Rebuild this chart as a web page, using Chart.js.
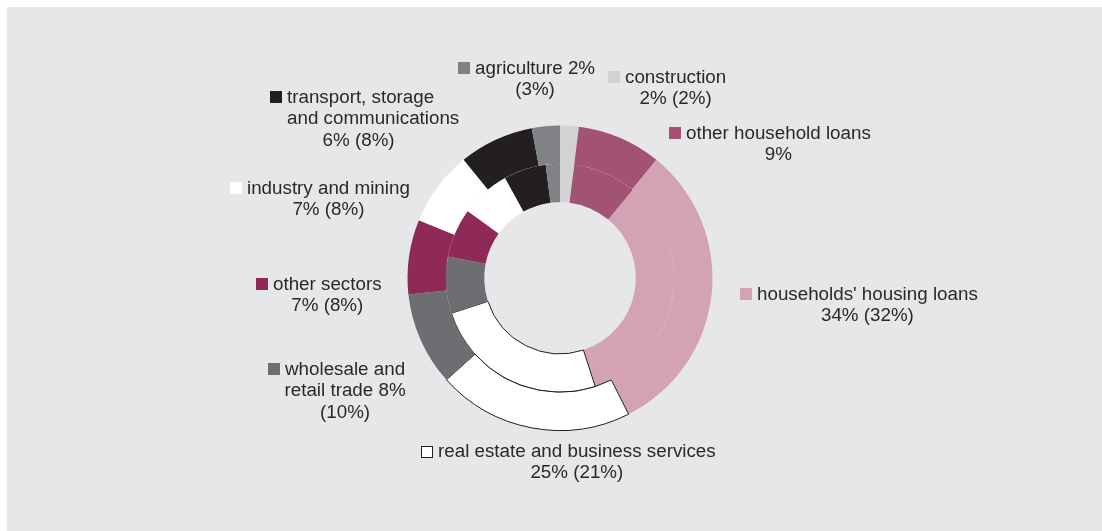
<!DOCTYPE html>
<html>
<head>
<meta charset="utf-8">
<title>Loans by sector</title>
<script src="https://cdn.jsdelivr.net/npm/chart.js@4"></script>
<style>
  html, body { margin: 0; padding: 0; background: #ffffff; }
  #wrap { width: 1102px; height: 531px; position: relative; }
  canvas { display: block; }
</style>
</head>
<body>
<div id="wrap"><canvas id="chart" width="1102" height="531"></canvas></div>
<script>
// Sectors, clockwise from 12 o'clock
const categories = [
  'construction',
  'other household loans',
  "households' housing loans",
  'real estate and business services',
  'wholesale and retail trade',
  'other sectors',
  'industry and mining',
  'transport, storage and communications',
  'agriculture'
];

// Shares in per cent: current (inner ring) and previous (outer ring)
const currentShare  = [2, 9, 34, 25, 8, 7, 7, 6, 2];
const previousShare = [2, 9, 32, 21, 10, 8, 8, 8, 3];
// whether the previous share is printed in the label
const showPrevious  = [true, false, true, true, true, true, true, true, true];

const sectorColors = ['#d1d2d4', '#a35372', '#d4a2b5', '#ffffff', '#6d6e71',
                      '#8f2957', '#ffffff', '#231f20', '#808285'];
const sectorBorder = [0, 0, 0, 1, 0, 0, 0, 0, 0];

// Label text, {c} = current share, {p} = previous share
const labelText = [
  ['construction', '{c}% ({p}%)'],
  ['other household loans', '{c}%'],
  ["households' housing loans", '{c}% ({p}%)'],
  ['real estate and business services', '{c}% ({p}%)'],
  ['wholesale and', 'retail trade {c}%', '({p}%)'],
  ['other sectors', '{c}% ({p}%)'],
  ['industry and mining', '{c}% ({p}%)'],
  ['transport, storage', 'and communications', '{c}% ({p}%)'],
  ['agriculture {c}%', '({p}%)']
];

// Label placement: key square (left, top) and first baseline
const labelPlace = [
  { bx: 608, by: 71,  base: 83  },
  { bx: 669, by: 127, base: 139 },
  { bx: 740, by: 288, base: 300 },
  { bx: 421, by: 446, base: 457 },
  { bx: 268, by: 363, base: 375 },
  { bx: 256, by: 278, base: 290 },
  { bx: 230, by: 182, base: 194 },
  { bx: 270, by: 91,  base: 103, leftLines: [1], centerShift: -2 },
  { bx: 458, by: 62,  base: 74  }
];

const FONT = '18.8px "Liberation Sans", Arial, Helvetica, sans-serif';
const TEXT_COLOR = '#2b2829';
const LINE_GAP = 21.3;

const panelBackground = {
  id: 'panelBackground',
  beforeDraw(chart) {
    const ctx = chart.ctx;
    ctx.save();
    ctx.fillStyle = '#ffffff';
    ctx.fillRect(0, 0, chart.width, chart.height);
    ctx.fillStyle = '#e6e7e8';
    ctx.fillRect(7, 7, chart.width - 7, chart.height - 7);
    ctx.restore();
  }
};

const sectorLabels = {
  id: 'sectorLabels',
  afterDraw(chart) {
    const ctx = chart.ctx;
    ctx.save();
    ctx.font = FONT;
    ctx.textBaseline = 'alphabetic';
    categories.forEach((name, i) => {
      const p = labelPlace[i];
      // key square
      ctx.fillStyle = sectorColors[i];
      ctx.fillRect(p.bx, p.by, 12, 12);
      if (sectorBorder[i]) {
        ctx.strokeStyle = '#231f20';
        ctx.lineWidth = 1;
        ctx.strokeRect(p.bx + 0.5, p.by + 0.5, 11, 11);
      }
      const lines = labelText[i].map(t => t
        .replace('{c}', currentShare[i])
        .replace('{p}', showPrevious[i] ? previousShare[i] : ''));
      const left = p.bx + 17;
      const firstW = ctx.measureText(lines[0]).width;
      const center = left + firstW / 2 + (p.centerShift || 0);
      ctx.fillStyle = TEXT_COLOR;
      lines.forEach((line, k) => {
        const y = p.base + k * LINE_GAP;
        if (k === 0 || (p.leftLines && p.leftLines.includes(k))) {
          ctx.textAlign = 'left';
          ctx.fillText(line, left, y);
        } else {
          ctx.textAlign = 'center';
          ctx.fillText(line, center, y);
        }
      });
    });
    ctx.restore();
  }
};

const ringStyle = {
  backgroundColor: sectorColors,
  borderColor: sectorColors.map((c, i) => sectorBorder[i] ? '#231f20' : c),
  borderWidth: sectorBorder,
  hoverOffset: 0
};

new Chart(document.getElementById('chart'), {
  type: 'doughnut',
  data: {
    labels: categories,
    datasets: [
      Object.assign({ label: 'previous', data: previousShare }, ringStyle),
      Object.assign({ label: 'current', data: currentShare }, ringStyle)
    ]
  },
  options: {
    responsive: false,
    animation: false,
    cutout: '49.7%',
    layout: { padding: { left: 407, right: 389, top: 125, bottom: 100 } },
    plugins: {
      legend: { display: false },
      tooltip: { enabled: false }
    }
  },
  plugins: [panelBackground, sectorLabels]
});
</script>
</body>
</html>
